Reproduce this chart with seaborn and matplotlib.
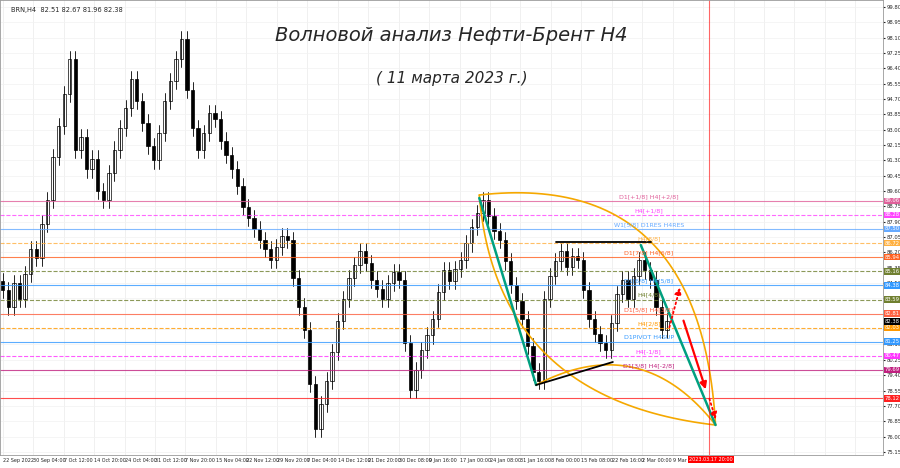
import matplotlib
matplotlib.use("Agg")
import matplotlib.pyplot as plt
import numpy as np
import seaborn as sns

closes = [84.1, 83.2, 84.5, 83.6, 85.0, 86.4, 85.9, 87.8, 89.1, 91.5, 93.2, 95.0, 96.9, 91.9, 92.6, 90.8,
          91.4, 89.6, 89.1, 90.6, 91.9, 93.1, 94.2, 95.8, 94.6, 93.4, 92.1, 91.3, 92.8, 94.6, 95.7, 96.9,
          98.0, 95.2, 93.1, 91.9, 92.8, 93.9, 93.6, 92.4, 91.6, 90.8, 89.9, 88.7, 88.1, 87.5, 86.9, 86.4,
          85.8, 86.5, 87.1, 86.9, 84.8, 83.2, 81.9, 78.9, 76.4, 77.8, 79.1, 80.7, 82.4, 83.6, 84.8, 85.5,
          86.3, 85.6, 84.7, 84.2, 83.6, 84.5, 85.1, 84.7, 81.2, 78.6, 79.7, 80.8, 81.6, 82.5, 84.0, 85.2,
          84.6, 85.3, 85.8, 86.7, 87.6, 88.4, 89.1, 88.2, 87.4, 86.9, 85.7, 84.4, 83.5, 82.5, 81.0, 79.6,
          79.1, 83.6, 84.9, 85.7, 86.3, 85.4, 86.0, 85.8, 84.1, 82.5, 81.7, 81.2, 80.8, 82.3, 83.9, 84.7,
          83.6, 84.9, 85.8, 85.2, 84.7, 83.2, 81.9, 82.38]
open_first = 84.6
tick_labels = ["22 Sep 2022", "30 Sep 04:00", "7 Oct 12:00", "14 Oct 20:00", "24 Oct 04:00", "31 Oct 12:00",
               "7 Nov 20:00", "15 Nov 04:00", "22 Nov 12:00", "29 Nov 20:00", "7 Dec 04:00", "14 Dec 12:00",
               "21 Dec 20:00", "30 Dec 08:00", "9 Jan 16:00", "17 Jan 00:00", "24 Jan 08:00", "31 Jan 16:00",
               "8 Feb 00:00", "15 Feb 08:00", "22 Feb 16:00", "2 Mar 00:00", "9 Mar 08:00"]
y_ticks = [99.80, 98.95, 98.10, 97.25, 96.40, 95.55, 94.70, 93.85, 93.00, 92.15, 91.30, 90.45, 89.60,
           88.75, 87.90, 87.05, 86.20, 85.35, 84.50, 83.65, 82.80, 81.95, 81.10, 80.25, 79.40, 78.55,
           77.70, 76.85, 76.00, 75.15]
level_prices = [89.06, 88.28, 87.50, 86.72, 85.94, 85.16, 84.38, 83.59, 82.81, 82.03, 81.25, 80.47, 79.69, 78.12]
level_colors = ["#e0609a", "#ff44ff", "#66aaff", "#ffb040", "#ff6020", "#708030", "#3399ff", "#708030",
                "#ff6040", "#ff9900", "#3399ff", "#ff33ff", "#c0207f", "#ff2020"]
level_styles = ["-", "--", "-", "--", "-", "--", "-", "--", "-", "--", "-", "--", "-", "-"]
level_texts = ["D1[+1/8] H4[+2/8]", "H4[+1/8]", "W1[5/8] D1RES H4RES", "H4[8/8]", "D1[7/8] H4[6/8]",
               "", "D1[6/8] H4[5/8]", "H4[4/8]", "D1[5/8] H4[3/8]", "H4[2/8]", "D1PIVOT H4SUP",
               "H4[-1/8]", "D1[3/8] H4[-2/8]", ""]
current_price = 82.38

sns.set_style("white")
plt.rcParams["font.family"] = ["DejaVu Sans"]
fig = plt.figure(figsize=(9, 4.68), dpi=100)
ax = fig.add_axes([0.0, 13 / 468, 883 / 900, 1 - 13 / 468])

px = 5.6
def X(x):
    return x / px
def P(y):
    return 99.80 - (y - 7) * 0.05541

opens = [open_first] + closes[:-1]
for i, (o, c) in enumerate(zip(opens, closes)):
    hi = max(o, c) + 0.45
    lo = min(o, c) - 0.45
    ax.plot([i, i], [lo, hi], color="black", lw=0.6)
    ax.add_patch(plt.Rectangle((i - 0.3, min(o, c)), 0.6, max(abs(c - o), 0.05),
                               facecolor="white" if c >= o else "black", edgecolor="black", lw=0.5))

tick_pos = np.linspace(0, 120, len(tick_labels))
for xt in np.arange(0, X(883), 120 / 22):
    ax.axvline(xt, color="#eeeeee", lw=0.6, zorder=0)
for yt in y_ticks:
    ax.axhline(yt, color="#f2f2f2", lw=0.5, zorder=0)

tag = dict(fontsize=3.8, color="white", va="center")
for p, col, ls, t in zip(level_prices, level_colors, level_styles, level_texts):
    ax.axhline(p, color=col, ls=ls, lw=0.8, alpha=0.8)
    if t:
        ax.text(X(648), p + 0.1, t, color=col, fontsize=4.5, ha="center", va="bottom")
    ax.text(1.002, p, f"{p:.2f}", transform=ax.get_yaxis_transform(),
            bbox=dict(boxstyle="square,pad=0.15", fc=col, ec="none"), **tag)
ax.text(1.002, current_price, f"{current_price:.2f}", transform=ax.get_yaxis_transform(),
        bbox=dict(boxstyle="square,pad=0.15", fc="black", ec="none"), **tag)

def bez(p0, p1, p2):
    t = np.linspace(0, 1, 60)[:, None]
    pts = (1 - t) ** 2 * np.array(p0) + 2 * (1 - t) * t * np.array(p1) + t ** 2 * np.array(p2)
    return [X(v) for v in pts[:, 0]], [P(v) for v in pts[:, 1]]

orange = "#f5a800"
for seg in [((478, 195), (700, 170), (715, 425)), ((478, 195), (495, 400), (715, 425)),
            ((535, 385), (640, 330), (715, 425))]:
    xs, ys = bez(*seg)
    ax.plot(xs, ys, color=orange, lw=1.2)

green = "#00a080"
ax.plot([X(478), X(535)], [P(198), P(385)], color=green, lw=1.8)
ax.plot([X(640), X(715)], [P(245), P(425)], color=green, lw=1.8)
ax.plot([X(555), X(650)], [P(242), P(242)], color="black", lw=1.3)
ax.plot([X(535), X(612)], [P(385), P(362)], color="black", lw=1.3)

ax.annotate("", xy=(X(680), P(285)), xytext=(X(668), P(330)),
            arrowprops=dict(arrowstyle="-|>", color="red", lw=1.3, ls=":"))
ax.annotate("", xy=(X(706), P(392)), xytext=(X(682), P(318)),
            arrowprops=dict(arrowstyle="-|>", color="red", lw=1.6))
ax.annotate("", xy=(X(716), P(422)), xytext=(X(708), P(396)),
            arrowprops=dict(arrowstyle="-|>", color="red", lw=1.3, ls=":"))

ax.axvline(X(708), color="red", lw=0.8, alpha=0.6)

ax.set_xlim(-0.5, X(883))
ax.set_ylim(P(455), P(0))
ax.yaxis.tick_right()
ax.set_yticks(y_ticks)
ax.set_yticklabels([f"{v:.2f}" for v in y_ticks], fontsize=3.8)
ax.set_xticks(tick_pos)
ax.set_xticklabels(tick_labels, fontsize=3.5, ha="left")
ax.tick_params(length=1.5, pad=1)
ax.text(X(710), -0.005, "2023.03.17 20:00", transform=ax.get_xaxis_transform(), fontsize=3.5,
        color="white", ha="center", va="top", bbox=dict(boxstyle="square,pad=0.25", fc="red", ec="none"))

ax.text(0.012, 0.985, "BRN,H4  82.51 82.67 81.96 82.38", transform=ax.transAxes, fontsize=4.8, va="top")
ax.text(X(450), P(35), "Волновой анализ Нефти-Брент H4", fontsize=14, ha="center", va="center",
        style="italic")
ax.text(X(450), P(78), "( 11 марта 2023 г.)", fontsize=11, ha="center", va="center", style="italic")
for s in ax.spines.values():
    s.set_color("#999999")
    s.set_linewidth(0.6)

fig.savefig("out.png", dpi=100)
